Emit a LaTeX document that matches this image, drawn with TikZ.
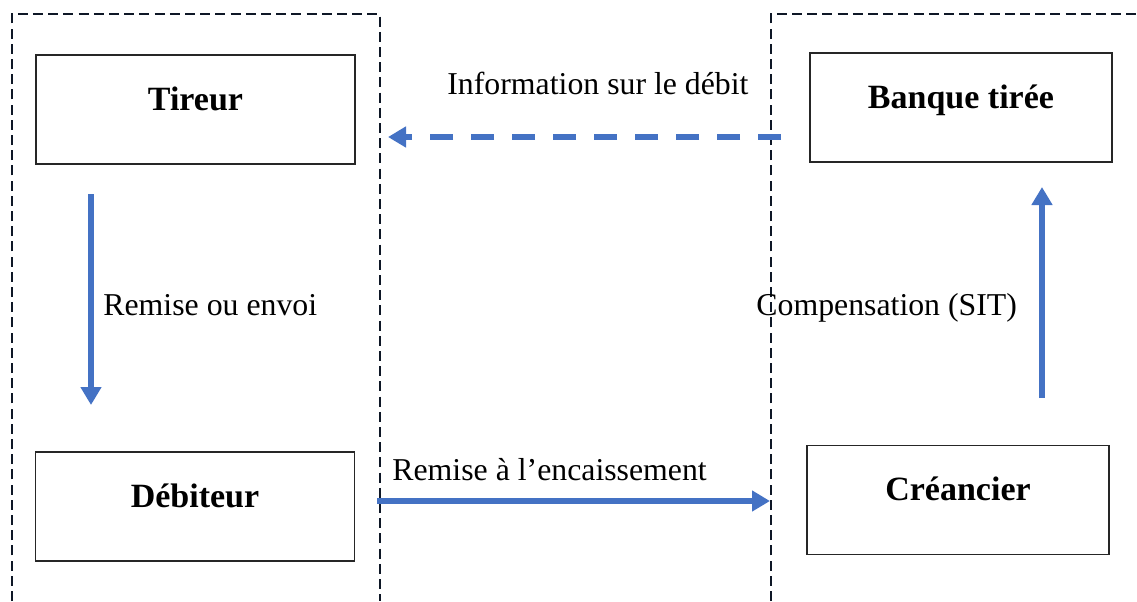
\documentclass[tikz,border=0pt]{standalone}
\usepackage{fontspec}
\setmainfont{Liberation Serif}
\usetikzlibrary{positioning, arrows.meta}
\definecolor{flowblue}{HTML}{4472C4}
\definecolor{framenavy}{HTML}{0E1726}
\tikzset{
    party box/.style={
        draw=black!85,
        line width=0.6pt,
        minimum width=159.5pt,
        minimum height=54.5pt,
        align=center,
        text height=11pt,
        text depth=10.5pt,
        font=\fontsize{17}{19}\selectfont\bfseries
    },
    zone line/.style={
        draw=framenavy,
        line width=1.4pt,
        dash pattern=on 5pt off 2.6pt
    },
    flow/.style={
        draw=flowblue,
        line width=2.8pt,
        -{Triangle[length=9pt,width=10pt]}
    },
    flow label/.style={
        font=\fontsize{15.9}{18}\selectfont,
        inner sep=0pt
    }
}
\begin{document}
\begin{tikzpicture}[x=0.5pt,y=-0.5pt]
            \useasboundingbox (0,0) rectangle (1137,601);
            % the two zones
            \draw[zone line] (12,601) -- (12,14) -- (380,14) -- (380,601);
            \draw[zone line] (771,601) -- (771,14) -- (1137,14);
            % boxes
            \node[party box] (tireur) at (195.5,109.5) {Tireur};
            \node[party box,minimum width=151pt] (banque) at (961,107.5) {Banque tir\'ee};
            \node[party box] (debiteur) at (195,506.5) {D\'ebiteur};
            \node[party box,minimum width=151pt] (creancier) at (958,500) {Cr\'eancier};
            % free ends of the arrows
            \coordinate (info start) at (781,137);
            \coordinate (info end) at (388,137);
            \coordinate (remise start) at (91,194);
            \coordinate (remise end) at (91,405);
            \coordinate (comp start) at (1042,398);
            \coordinate (comp end) at (1042,187);
            \coordinate (encais start) at (377,501);
            \coordinate (encais end) at (770,501);
            \draw[flow,dash pattern=on 11.5pt off 9pt] (info start) -- (info end);
            \draw[flow] (remise start) -- (remise end);
            \draw[flow] (comp start) -- (comp end);
            \draw[flow] (encais start) -- (encais end);
            % labels
            \node[flow label,anchor=base west] (info) at (447,94) {Information sur le d\'ebit};
            \node[flow label,anchor=base west] (envoi) at (103,315) {Remise ou envoi};
            \node[flow label,anchor=base west] (comp) at (756,315) {Compensation (SIT)};
            \node[flow label,anchor=base west] (encais) at (392,480) {Remise à l’encaissement};
          \end{tikzpicture}
\end{document}
